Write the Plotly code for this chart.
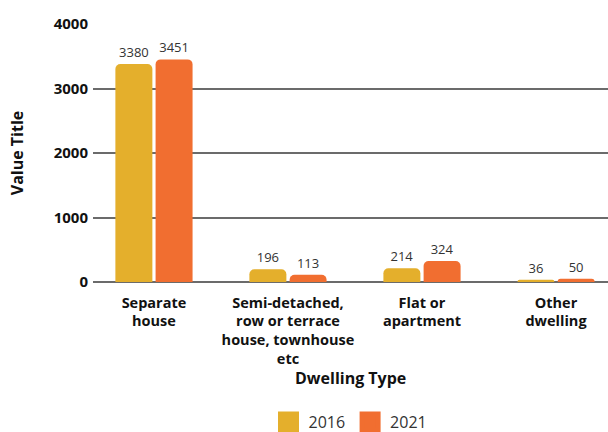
import plotly.graph_objects as go

categories = [
    "Separate<br>house",
    "Semi-detached,<br>row or terrace<br>house, townhouse<br>etc",
    "Flat or<br>apartment",
    "Other<br>dwelling",
]
values_2016 = [3380, 196, 214, 36]
values_2021 = [3451, 113, 324, 50]
series = [("2016", values_2016, "#E4AF2C"), ("2021", values_2021, "#F16E30")]

FONT = "Open Sans"

fig = go.Figure()
for name, vals, color in series:
    fig.add_trace(go.Bar(
        x=categories, y=vals, name=name,
        marker=dict(color=color, cornerradius=5, line=dict(width=0)),
        text=[str(v) for v in vals], textposition="outside",
        textfont=dict(family=FONT, size=13, color="#333333"),
        cliponaxis=False, showlegend=False,
    ))
    # larger square swatch for the legend entry
    fig.add_trace(go.Scatter(
        x=[None], y=[None], mode="markers", name=name,
        marker=dict(symbol="square", size=16, color=color,
                    line=dict(color=color, width=5)),
    ))

fig.update_layout(
    width=608, height=432,
    margin=dict(l=93, r=0, t=24, b=150, autoexpand=False),
    paper_bgcolor="white", plot_bgcolor="white",
    font=dict(family=FONT, color="#111111"),
    barmode="group", bargap=0.4, bargroupgap=0.08,
    annotations=[dict(
        x=0.5, xref="paper", y=0, yref="paper", yanchor="middle", yshift=-96,
        showarrow=False, text="<b>Dwelling Type</b>",
        font=dict(family=FONT, size=16, color="#111111"),
    )],
    legend=dict(orientation="h", x=0.5, xanchor="center", y=-0.543, yanchor="middle",
                font=dict(family=FONT, size=16, color="#333333"),
                itemsizing="trace", traceorder="normal"),
    xaxis=dict(
        range=[-0.455, 3.388],
        showgrid=False, showline=False, zeroline=False, ticks="",
        ticklabelstandoff=10,
        tickfont=dict(family=FONT, size=14.5, color="#111111", weight="bold"),
    ),
    yaxis=dict(
        range=[0, 4000], dtick=1000,
        showgrid=True, gridcolor="#6b6b6b", gridwidth=1.5,
        zeroline=True, zerolinecolor="#6b6b6b", zerolinewidth=1.5,
        showline=False, ticks="", ticklabelstandoff=4,
        tickfont=dict(family=FONT, size=15, color="#111111", weight="bold"),
        title=dict(text="<b>Value Title</b>", font=dict(family=FONT, size=16, color="#111111"), standoff=26),
    ),
)

fig.write_html("out.html")
